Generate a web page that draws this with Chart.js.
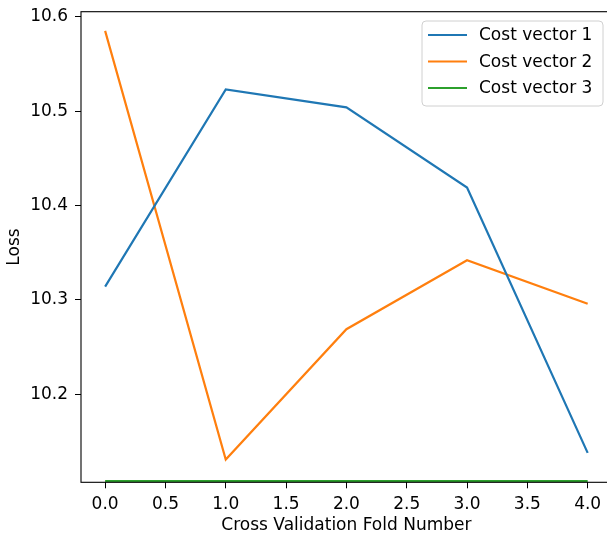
<!DOCTYPE html>
<html>
<head>
<meta charset="utf-8">
<script src="https://cdn.jsdelivr.net/npm/chart.js@4.4.1/dist/chart.umd.min.js"></script>
<style>
  html, body { margin: 0; padding: 0; background: #ffffff; overflow: hidden; }
  #wrap { position: relative; width: 625px; height: 537px; }
</style>
</head>
<body>
<div id="wrap"><canvas id="chart"></canvas></div>
<script>
// Loss per cross-validation fold for each cost vector
const foldNumbers = [0, 1, 2, 3, 4];
const costVector1 = [10.314, 10.523, 10.504, 10.419, 10.138];
const costVector2 = [10.585, 10.131, 10.269, 10.342, 10.296];
const costVector3 = [10.108, 10.108, 10.108, 10.108, 10.108];

const seriesNames = ['Cost vector 1', 'Cost vector 2', 'Cost vector 3'];
const seriesColors = ['#1f77b4', '#ff7f0e', '#2ca02c'];

const xTickValues = [0, 0.5, 1, 1.5, 2, 2.5, 3, 3.5, 4];
const yTickValues = [10.2, 10.3, 10.4, 10.5, 10.6];

const FONT = 'DejaVu Sans';
const FSIZE = 17;

function toPoints(values) {
  return foldNumbers.map((x, i) => ({ x: x, y: values[i] }));
}

const allSeries = [costVector1, costVector2, costVector3];
const datasets = allSeries.map((vals, i) => ({
  label: seriesNames[i],
  data: toPoints(vals),
  borderColor: seriesColors[i],
  backgroundColor: seriesColors[i],
  borderWidth: 2.2,
  pointRadius: 0,
  tension: 0,
  fill: false
}));

// Axes frame drawn on top of the lines, like plot spines
const spines = {
  id: 'spines',
  afterDatasetsDraw(chart) {
    const { ctx, chartArea: a } = chart;
    ctx.save();
    ctx.strokeStyle = '#000000';
    ctx.lineWidth = 1.1;
    ctx.strokeRect(a.left, a.top, a.right - a.left, a.bottom - a.top);
    ctx.restore();
  }
};

// Framed legend in the upper-right corner of the plot area
const boxLegend = {
  id: 'boxLegend',
  afterDraw(chart) {
    const { ctx } = chart;
    const x0 = 422, y0 = 21, w = 181, h = 85, r = 4;
    ctx.save();
    ctx.beginPath();
    ctx.moveTo(x0 + r, y0);
    ctx.arcTo(x0 + w, y0, x0 + w, y0 + h, r);
    ctx.arcTo(x0 + w, y0 + h, x0, y0 + h, r);
    ctx.arcTo(x0, y0 + h, x0, y0, r);
    ctx.arcTo(x0, y0, x0 + w, y0, r);
    ctx.closePath();
    ctx.fillStyle = 'rgba(255,255,255,0.8)';
    ctx.fill();
    ctx.strokeStyle = '#d0d0d0';
    ctx.lineWidth = 1;
    ctx.stroke();
    ctx.font = FSIZE + 'px "' + FONT + '"';
    ctx.textBaseline = 'middle';
    ctx.fillStyle = '#000000';
    chart.data.datasets.forEach((ds, i) => {
      const y = 35 + i * 26.5;
      ctx.beginPath();
      ctx.strokeStyle = ds.borderColor;
      ctx.lineWidth = 2.2;
      ctx.moveTo(428, y);
      ctx.lineTo(467, y);
      ctx.stroke();
      ctx.fillText(ds.label, 479, y + 1);
    });
    ctx.restore();
  }
};

new Chart(document.getElementById('chart'), {
  type: 'line',
  data: { datasets: datasets },
  options: {
    responsive: true,
    maintainAspectRatio: false,
    animation: false,
    layout: { padding: { top: 11.7, right: 13.2, left: 0, bottom: 0 } },
    plugins: { legend: { display: false }, tooltip: { enabled: false } },
    scales: {
      x: {
        type: 'linear',
        min: -0.2,
        max: 4.2,
        afterBuildTicks(scale) { scale.ticks = xTickValues.map(v => ({ value: v })); },
        afterFit(scale) { scale.height = 54.7; scale.paddingLeft = 0; scale.paddingRight = 0; },
        border: { display: false },
        grid: { drawOnChartArea: false, drawTicks: true, tickLength: 6, color: '#000000', lineWidth: 1 },
        ticks: {
          color: '#000000',
          font: { family: FONT, size: FSIZE },
          padding: 6,
          maxRotation: 0,
          callback: v => Number(v).toFixed(1)
        },
        title: {
          display: true,
          text: 'Cross Validation Fold Number',
          color: '#000000',
          font: { family: FONT, size: FSIZE },
          padding: { top: 0, bottom: 1 }
        }
      },
      y: {
        type: 'linear',
        min: 10.1068,
        max: 10.6053,
        afterBuildTicks(scale) { scale.ticks = yTickValues.map(v => ({ value: v })); },
        afterFit(scale) { scale.width = 81; scale.paddingTop = 0; scale.paddingBottom = 0; },
        border: { display: false },
        grid: { drawOnChartArea: false, drawTicks: true, tickLength: 6, color: '#000000', lineWidth: 1 },
        ticks: {
          color: '#000000',
          font: { family: FONT, size: FSIZE },
          padding: 7,
          callback: v => Number(v).toFixed(1)
        },
        title: {
          display: true,
          text: 'Loss',
          color: '#000000',
          font: { family: FONT, size: FSIZE },
          padding: { top: 4, bottom: 0 }
        }
      }
    }
  },
  plugins: [spines, boxLegend]
});
</script>
</body>
</html>
